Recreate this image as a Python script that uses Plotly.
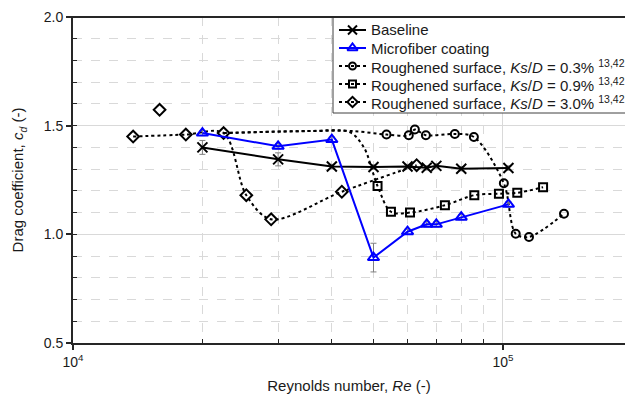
import plotly.graph_objects as go

# ---- data ----
re_base = [2.0e4, 3.0e4, 4.0e4, 5.0e4, 6.0e4, 6.65e4, 7.0e4, 8.0e4, 1.03e5]
cd_base = [1.40, 1.345, 1.312, 1.31, 1.312, 1.306, 1.315, 1.302, 1.305]
err_base = [0.032, 0.03, 0.01, 0.01, 0.01, 0.01, 0.01, 0.01, 0.01]

re_micro = [2.0e4, 3.0e4, 4.0e4, 5.0e4, 6.0e4, 6.65e4, 7.0e4, 8.0e4, 1.03e5]
cd_micro = [1.466, 1.405, 1.436, 0.893, 1.012, 1.046, 1.046, 1.079, 1.138]
err_micro = [0.012, 0.012, 0.012, 0.066, 0.012, 0.012, 0.012, 0.012, 0.012]

# Ks/D = 0.3 %
re_r03 = [5.36e4, 6.04e4, 6.24e4, 6.62e4, 7.73e4, 8.56e4, 1.005e5, 1.071e5, 1.15e5, 1.387e5]
cd_r03 = [1.459, 1.456, 1.482, 1.456, 1.462, 1.448, 1.235, 1.003, 0.988, 1.095]
re_r03_lead = [2.24e4, 3.5e4, 4.5e4]
cd_r03_lead = [1.466, 1.475, 1.475]

# Ks/D = 0.9 %
re_r09 = [5.11e4, 5.49e4, 6.08e4, 7.33e4, 8.58e4, 9.79e4, 1.08e5, 1.24e5]
cd_r09 = [1.222, 1.104, 1.10, 1.134, 1.18, 1.187, 1.191, 1.217]
re_r09_lead = [2.24e4, 3.5e4, 4.4e4, 4.75e4]
cd_r09_lead = [1.466, 1.475, 1.47, 1.40]

# Ks/D = 3.0 %
re_r30 = [1.38e4, 1.83e4, 2.24e4, 2.53e4, 2.89e4, 4.22e4, 6.3e4]
cd_r30 = [1.45, 1.459, 1.466, 1.18, 1.069, 1.196, 1.318]
re_r30_out = [1.59e4]
cd_r30_out = [1.573]

x_tickvals = [1e4, 1e5]
x_ticktext = ["10<sup>4</sup>", "10<sup>5</sup>"]
y_tickvals = [0.5, 1.0, 1.5, 2.0]
y_ticktext = ["0.5", "1.0", "1.5", "2.0"]

labels = [
    "Baseline",
    "Microfiber coating",
    "Roughened surface, <i>Ks</i>/<i>D</i> = 0.3% <sup>13,42</sup>",
    "Roughened surface, <i>Ks</i>/<i>D</i> = 0.9% <sup>13,42</sup>",
    "Roughened surface, <i>Ks</i>/<i>D</i> = 3.0% <sup>13,42</sup>",
]

BLUE = "#0000FF"
FONT = "Liberation Sans, Arial, sans-serif"
TXT = "#1a1a1a"

# plot-area geometry (pixels)
W, H = 625, 399
ML, MR, MT, MB = 73, 0, 17, 56
PW, PH = W - ML - MR, H - MT - MB


def px2x(px):
    return (px - ML) / PW


def py2y(py):
    return (H - MB - py) / PH


fig = go.Figure()

# rough-surface curves (lines only)
for rx, ry in [(re_r03_lead + re_r03, cd_r03_lead + cd_r03),
               (re_r09_lead + re_r09, cd_r09_lead + cd_r09),
               (re_r30, cd_r30)]:
    fig.add_trace(go.Scatter(x=rx, y=ry, mode="lines", showlegend=False,
                             line=dict(color="black", width=2, dash="dot", shape="spline", smoothing=0.9),
                             hoverinfo="skip"))

# rough-surface markers
rough_styles = [("circle-open", 8), ("square-open", 8), ("diamond-open", 9)]
for (rx, ry), (sym, sz) in zip([(re_r03, cd_r03), (re_r09, cd_r09),
                                (re_r30 + re_r30_out, cd_r30 + cd_r30_out)], rough_styles):
    fig.add_trace(go.Scatter(x=rx, y=ry, mode="markers", showlegend=False, name="",
                             marker=dict(symbol=sym, size=sz, color="black", line=dict(width=2, color="black"))))

# baseline
fig.add_trace(go.Scatter(x=re_base, y=cd_base, mode="lines+markers", name="Baseline", showlegend=False,
                         line=dict(color="black", width=2),
                         marker=dict(symbol="x-thin", size=10, line=dict(width=2, color="black")),
                         error_y=dict(type="data", array=err_base, color="#808080", thickness=1, width=3)))
# microfiber
fig.add_trace(go.Scatter(x=re_micro, y=cd_micro, mode="lines+markers", name="Microfiber coating", showlegend=False,
                         line=dict(color=BLUE, width=2),
                         marker=dict(symbol="triangle-up-open", size=10, color=BLUE, line=dict(width=2, color=BLUE)),
                         error_y=dict(type="data", array=err_micro, color="#808080", thickness=1, width=3)))

# ---- legend (box + keys on an overlay subplot, labels as annotations) ----
bx0, bx1, by0, by1 = px2x(333), 1.02, py2y(113), 1.0
fig.add_trace(go.Scatter(x=[bx0, bx1, bx1, bx0, bx0], y=[by0, by0, by1, by1, by0],
                         mode="lines", fill="toself", fillcolor="white",
                         line=dict(color="#404040", width=1),
                         xaxis="x2", yaxis="y2", showlegend=False, hoverinfo="skip"))

leg_rows_py = [30, 48, 66, 84, 102]
leg_styles = [
    dict(color="black", dash="solid", sym="x-thin", size=9),
    dict(color=BLUE, dash="solid", sym="triangle-up-open", size=9),
    dict(color="black", dash="dot", sym="circle-open", size=7),
    dict(color="black", dash="dot", sym="square-open", size=7),
    dict(color="black", dash="dot", sym="diamond-open", size=8),
]
kx0, kx1, kxm, tx = px2x(339), px2x(366), px2x(352.5), px2x(369)
annotations = []
for lab, st, py in zip(labels, leg_styles, leg_rows_py):
    yy = py2y(py)
    fig.add_trace(go.Scatter(x=[kx0, kx1], y=[yy, yy], mode="lines", xaxis="x2", yaxis="y2",
                             showlegend=False, hoverinfo="skip",
                             line=dict(color=st["color"], width=2, dash=st["dash"])))
    fig.add_trace(go.Scatter(x=[kxm], y=[yy], mode="markers", xaxis="x2", yaxis="y2",
                             showlegend=False, hoverinfo="skip",
                             marker=dict(symbol=st["sym"], size=st["size"], color=st["color"],
                                         line=dict(width=2, color=st["color"]))))
    annotations.append(dict(x=tx, y=yy, xref="paper", yref="paper", text=lab, showarrow=False,
                            xanchor="left", yanchor="middle", align="left",
                            font=dict(family=FONT, size=15, color=TXT)))

fig.update_layout(
    width=W, height=H,
    margin=dict(l=ML, r=MR, t=MT, b=MB),
    paper_bgcolor="white", plot_bgcolor="white",
    font=dict(family=FONT, size=14, color=TXT),
    showlegend=False,
    xaxis=dict(type="log", range=[4, 5.284],
               tickvals=x_tickvals, ticktext=x_ticktext,
               ticks="outside", ticklen=5, tickwidth=2, tickcolor="#262626",
               showline=True, linecolor="#262626", linewidth=2, mirror=False,
               showgrid=True, gridcolor="#d9d9d9", gridwidth=1,
               minor=dict(tickvals=[2e4, 3e4, 4e4, 5e4, 6e4, 7e4, 8e4, 9e4, 2e5],
                          ticks="inside", ticklen=4, tickcolor="#262626", tickwidth=1,
                          showgrid=True, gridcolor="#d9d9d9", griddash="dash", gridwidth=1),
               title=dict(text="Reynolds number, <i>Re</i> (-)", standoff=12, font=dict(size=15)),
               zeroline=False),
    yaxis=dict(range=[0.5, 2.0],
               tickvals=y_tickvals, ticktext=y_ticktext,
               ticks="outside", ticklen=5, tickwidth=2, tickcolor="#262626",
               showline=True, linecolor="#262626", linewidth=2,
               showgrid=True, gridcolor="#d9d9d9", gridwidth=1,
               minor=dict(dtick=0.1, ticks="inside", ticklen=4, tickcolor="#262626", tickwidth=1,
                          showgrid=True, gridcolor="#d9d9d9", griddash="dash", gridwidth=1),
               title=dict(text="Drag coefficient, <i>c<sub>d</sub></i> (-)", standoff=16, font=dict(size=15)),
               zeroline=False),
    xaxis2=dict(overlaying="x", range=[0, 1], visible=False, fixedrange=True, anchor="y2"),
    yaxis2=dict(overlaying="y", range=[0, 1], visible=False, fixedrange=True, anchor="x2"),
    shapes=[
        dict(type="line", xref="paper", yref="paper", x0=-0.01, x1=1, y0=1, y1=1,
             line=dict(color="#262626", width=2)),
    ],
    annotations=annotations,
)

fig.write_html("out.html")
